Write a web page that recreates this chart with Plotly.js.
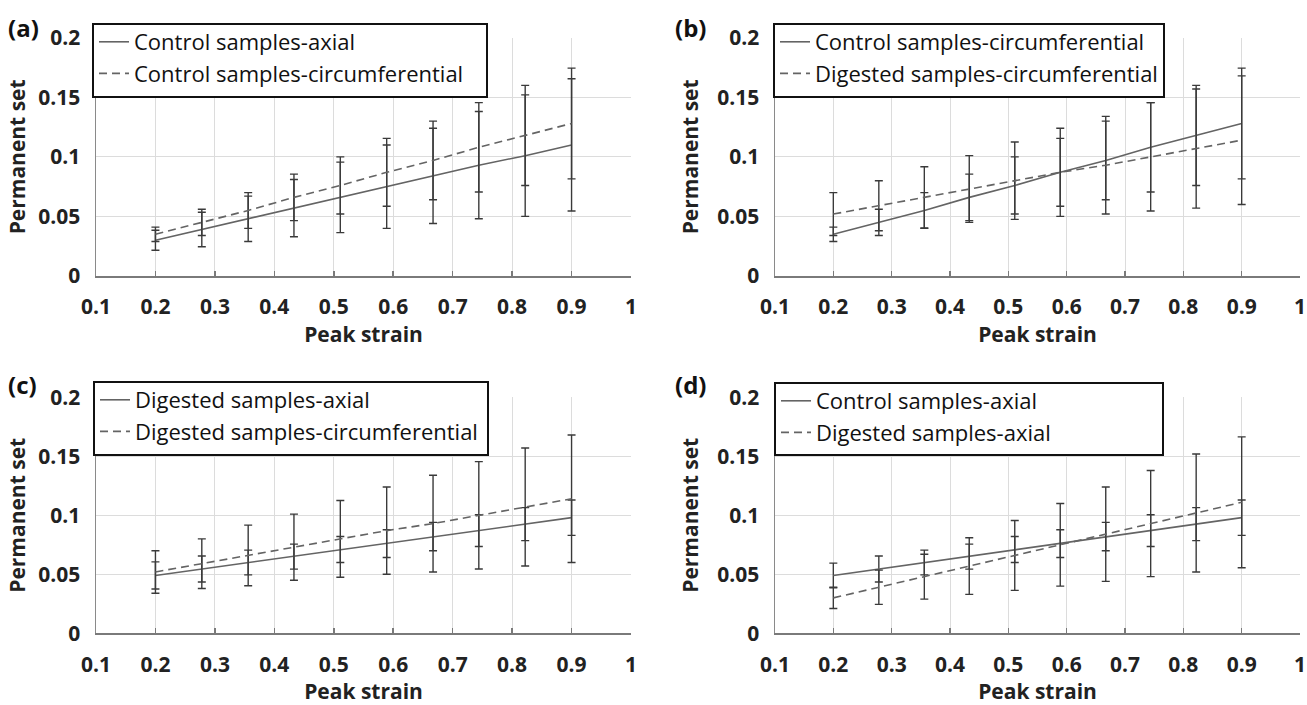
<!DOCTYPE html>
<html>
<head>
<meta charset="utf-8">
<script src="https://cdn.plot.ly/plotly-3.0.1.min.js"></script>
<style>html,body{margin:0;padding:0;background:#fff;}#chart{width:1307px;height:705px;}</style>
</head>
<body>
<div id="chart"></div>
<script>
// Peak strain levels (x)
const strain = [0.2, 0.278, 0.356, 0.433, 0.511, 0.589, 0.667, 0.744, 0.822, 0.9];
// Control samples - axial
const ctrlAxial   = [0.030, 0.039, 0.048, 0.057, 0.066, 0.075, 0.084, 0.093, 0.101, 0.110];
const ctrlAxialSD = [0.0084, 0.0145, 0.019, 0.024, 0.0296, 0.035, 0.040, 0.045, 0.051, 0.0555];
// Control samples - circumferential
const ctrlCirc    = [0.035, 0.045, 0.055, 0.066, 0.076, 0.087, 0.097, 0.108, 0.118, 0.128];
const ctrlCircSD  = [0.006, 0.011, 0.015, 0.0195, 0.024, 0.0285, 0.033, 0.0375, 0.042, 0.0465];
// Digested samples - circumferential
const digCirc     = [0.052, 0.059, 0.066, 0.073, 0.080, 0.087, 0.093, 0.100, 0.107, 0.114];
const digCircSD   = [0.018, 0.021, 0.0257, 0.028, 0.0325, 0.037, 0.041, 0.0455, 0.050, 0.054];
// Digested samples - axial
const digAxial    = [0.049, 0.0545, 0.060, 0.065, 0.071, 0.076, 0.082, 0.087, 0.0925, 0.098];
const digAxialSD  = [0.0115, 0.011, 0.0105, 0.0106, 0.011, 0.0117, 0.012, 0.0135, 0.014, 0.015];
// Panel (d) as drawn in the figure: solid line labelled "Control samples-axial", dashed "Digested samples-axial"
const dSolid      = [0.049, 0.0545, 0.060, 0.065, 0.071, 0.076, 0.082, 0.087, 0.0925, 0.098];
const dSolidSD    = [0.0105, 0.011, 0.0105, 0.0106, 0.011, 0.0117, 0.012, 0.0135, 0.014, 0.015];
const dDashed     = [0.030, 0.039, 0.048, 0.057, 0.066, 0.075, 0.084, 0.093, 0.102, 0.111];
const dDashedSD   = [0.009, 0.0145, 0.019, 0.024, 0.0296, 0.035, 0.040, 0.045, 0.050, 0.0555];

const panelLabels = ['(a)', '(b)', '(c)', '(d)'];
const solidNames  = ['Control samples-axial', 'Control samples-circumferential', 'Digested samples-axial', 'Control samples-axial'];
const dashedNames = ['Control samples-circumferential', 'Digested samples-circumferential', 'Digested samples-circumferential', 'Digested samples-axial'];
const solidY  = [ctrlAxial, ctrlCirc, digAxial, dSolid];
const solidE  = [ctrlAxialSD, ctrlCircSD, digAxialSD, dSolidSD];
const dashedY = [ctrlCirc, digCirc, digCirc, dDashed];
const dashedE = [ctrlCircSD, digCircSD, digCircSD, dDashedSD];

const W = 1307, H = 705;
const xDom = [[96/W, 631/W], [775/W, 1300/W]];
const yDom = [[(H-276)/H, (H-37.7)/H], [(H-633.3)/H, (H-397.3)/H]];
// legend frames (px): left, right, top, bottom
const legBox = [[93, 487, 24, 97], [774, 1164, 24, 97], [94, 488, 382, 455], [775, 1163, 383, 455]];

const FONT = '"Open Sans", "Noto Sans", sans-serif';
const lineColor = '#646464';
const errColor = '#3a3a3a';

const traces = [];
const layout = {
  width: W, height: H,
  margin: {l: 0, r: 0, t: 0, b: 0},
  paper_bgcolor: '#fff', plot_bgcolor: '#fff',
  font: {family: FONT, color: '#222'},
  showlegend: true,
  annotations: [],
  shapes: []
};

for (let i = 0; i < 4; i++) {
  const col = i % 2, row = Math.floor(i / 2);
  const n = i + 1;
  const xa = n === 1 ? 'x' : 'x' + n;
  const ya = n === 1 ? 'y' : 'y' + n;
  const leg = n === 1 ? 'legend' : 'legend' + n;
  const errStyle = (arr) => ({type: 'data', array: arr, visible: true, color: errColor, thickness: 1.4, width: 4});
  traces.push({
    x: strain, y: solidY[i], type: 'scatter', mode: 'lines', name: solidNames[i],
    xaxis: xa, yaxis: ya, legend: leg, legendgroup: 'g' + n + 's',
    line: {color: lineColor, width: 1.6},
    error_y: errStyle(solidE[i])
  });
  traces.push({
    x: strain, y: dashedY[i], type: 'scatter', mode: 'lines', name: dashedNames[i],
    xaxis: xa, yaxis: ya, legend: leg, legendgroup: 'g' + n + 'd',
    line: {color: lineColor, width: 1.6, dash: '8px,5px'},
    error_y: errStyle(dashedE[i])
  });
  const axX = {
    domain: xDom[col], anchor: ya, range: [0.1, 1.0], dtick: 0.1, tick0: 0.1,
    showgrid: true, gridcolor: '#dcdcdc', gridwidth: 1,
    showline: true, linecolor: '#7a7a7a', linewidth: 2, zeroline: false,
    ticks: 'inside', ticklen: 5, tickcolor: '#7a7a7a', tickwidth: 1.5,
    ticklabelstandoff: 11, ticklabeloverflow: 'allow',
    tickfont: {family: FONT, size: 21, color: '#222', weight: 'bold'},
    title: {text: 'Peak strain', font: {family: FONT, size: 21, color: '#222', weight: 'bold'}, standoff: 5}
  };
  const axY = {
    domain: yDom[row], anchor: xa, range: [0, 0.2], dtick: 0.05, tick0: 0,
    showgrid: true, gridcolor: '#dcdcdc', gridwidth: 1,
    showline: true, linecolor: '#8a8a8a', linewidth: 1.5, zeroline: false,
    ticks: '', ticklabelstandoff: 10,
    tickfont: {family: FONT, size: 21, color: '#222', weight: 'bold'},
    title: {text: 'Permanent set', font: {family: FONT, size: 21, color: '#222', weight: 'bold'}, standoff: col === 0 ? 7 : 13}
  };
  layout['xaxis' + (n === 1 ? '' : n)] = axX;
  layout['yaxis' + (n === 1 ? '' : n)] = axY;
  const b = legBox[i];
  layout.shapes.push({
    type: 'rect', xref: 'paper', yref: 'paper', layer: 'above',
    x0: b[0]/W, x1: b[1]/W, y0: (H - b[3])/H, y1: (H - b[2])/H,
    fillcolor: '#fff', line: {color: '#111', width: 2}
  });
  layout[leg] = {
    x: (b[0] + 1)/W, y: (H - (b[2] - 3))/H, xanchor: 'left', yanchor: 'top',
    bgcolor: 'rgba(0,0,0,0)', borderwidth: 0,
    font: {family: FONT, size: 22, color: '#111'},
    tracegroupgap: 0, itemwidth: 30
  };
  layout.annotations.push({
    text: panelLabels[i], xref: 'paper', yref: 'paper',
    x: (col === 0 ? 6 : 673)/W, y: (H - (row === 0 ? 27 : 384))/H,
    xanchor: 'left', yanchor: 'middle', showarrow: false,
    font: {family: FONT, size: 24, color: '#111', weight: 'bold'}
  });
}

Plotly.newPlot('chart', traces, layout, {staticPlot: true, displayModeBar: false});
</script>
</body>
</html>
